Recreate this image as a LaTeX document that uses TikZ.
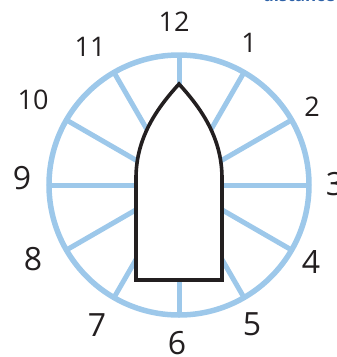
\documentclass[tikz,border=0pt]{standalone}
\usepackage{fontspec}
\setmainfont{Open Sans}
\usetikzlibrary{calc}
\definecolor{spokeblue}{HTML}{9DC8EA}
\definecolor{boatblack}{HTML}{231F20}
\definecolor{titleblue}{HTML}{2E62A8}
\begin{document}
\begin{tikzpicture}[x=1pt,y=-1pt,
  ring/.style={draw=spokeblue,line width=5.5pt},
  spoke/.style={draw=spokeblue,line width=5pt},
  boat/.style={draw=boatblack,fill=white,line width=3.6pt,line join=miter},
  hourA/.style={text=boatblack,font=\fontsize{27}{27}\selectfont,inner sep=0pt},
  hourB/.style={text=boatblack,font=\fontsize{32}{32}\selectfont,inner sep=0pt}]
\useasboundingbox (0,0) rectangle (337,357);
\clip (0,0) rectangle (337,357);
\coordinate (c) at (179,185);
\node[text=titleblue,font=\bfseries\fontsize{17}{17}\selectfont,anchor=base west,inner sep=0pt] (frag) at (263,1.2) {distance};
\foreach \a in {0,30,...,330}{
  \coordinate (r\a) at ($(c)+(\a:130)$);
}
\foreach \a in {0,30,...,330}{
  \draw[spoke] (c) -- (r\a);
}
\draw[ring] (c) circle (130);
\path[boat] (136,280) -- (136,178) .. controls (136,136) and (159,106) .. (179,84)
  .. controls (199,106) and (222,136) .. (222,178) -- (222,280) -- cycle;
\node[hourA] (h12) at (174,22) {12};
\node[hourA] (h1) at (249,43) {1};
\node[hourA] (h2) at (312,107) {2};
\node[hourB] (h3) at (335,184) {3};
\node[hourB] (h4) at (311,262) {4};
\node[hourB] (h5) at (252,324) {5};
\node[hourB] (h6) at (177,343) {6};
\node[hourB] (h7) at (97,325) {7};
\node[hourB] (h8) at (33,259) {8};
\node[hourB] (h9) at (22,178) {9};
\node[hourA] (h10) at (33,100) {10};
\node[hourA] (h11) at (90,47) {11};
\end{tikzpicture}
\end{document}
